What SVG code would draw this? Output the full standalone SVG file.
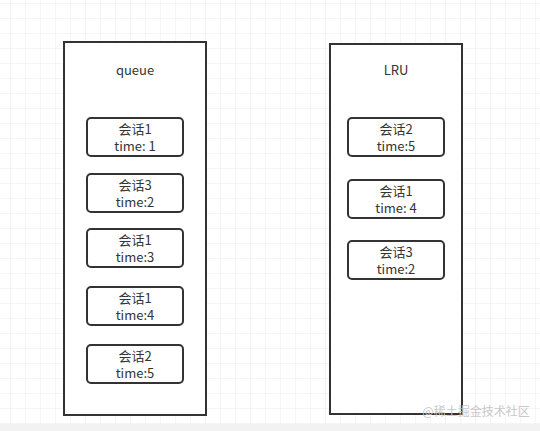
<svg xmlns="http://www.w3.org/2000/svg" width="540" height="431" viewBox="0 0 540 431">
<defs>
<pattern id="grid" width="15" height="15" patternUnits="userSpaceOnUse" x="10" y="3">
<path d="M0 0H15M0 0V15" fill="none" stroke="#ebebeb" stroke-width="1"/>
</pattern>
<style>
.outer{fill:#fff;stroke:#333;stroke-width:2}
.item{fill:#fff;stroke:#333;stroke-width:2}
text{font-family:"Noto Sans CJK SC","Liberation Sans",sans-serif;font-size:13px;fill:#333;text-anchor:middle}
.wm{fill:#c8c8c8;font-size:12px}
</style>
</defs>
<rect width="540" height="431" fill="#fff"/>
<rect width="540" height="431" fill="url(#grid)"/>
<rect x="0" y="424" width="540" height="7" fill="#f2f2f2"/>
<g id="queue">
<rect class="outer" x="64" y="42" width="142" height="373"/>
<text x="135" y="75">queue</text>
</g>
<g id="q1"><rect class="item" x="87" y="118" width="96" height="38" rx="4"/><text x="135" y="134">会话1</text><text x="135" y="151">time: 1</text></g>
<g id="q2"><rect class="item" x="87" y="174" width="96" height="38" rx="4"/><text x="135" y="190">会话3</text><text x="135" y="207">time:2</text></g>
<g id="q3"><rect class="item" x="87" y="229" width="96" height="38" rx="4"/><text x="135" y="245">会话1</text><text x="135" y="262">time:3</text></g>
<g id="q4"><rect class="item" x="87" y="287" width="96" height="38" rx="4"/><text x="135" y="303">会话1</text><text x="135" y="320">time:4</text></g>
<g id="q5"><rect class="item" x="87" y="345" width="96" height="38" rx="4"/><text x="135" y="361">会话2</text><text x="135" y="378">time:5</text></g>
<g id="lru">
<rect class="outer" x="330" y="44" width="132" height="370"/>
<text x="396" y="75">LRU</text>
</g>
<g id="l1"><rect class="item" x="348" y="118" width="96" height="38" rx="4"/><text x="396" y="134">会话2</text><text x="396" y="151">time:5</text></g>
<g id="l2"><rect class="item" x="348" y="180" width="96" height="38" rx="4"/><text x="396" y="196">会话1</text><text x="396" y="213">time: 4</text></g>
<g id="l3"><rect class="item" x="348" y="241" width="96" height="38" rx="4"/><text x="396" y="257">会话3</text><text x="396" y="274">time:2</text></g>
<g id="connectors"></g>
<text class="wm" x="476" y="416">@稀土掘金技术社区</text>
</svg>
